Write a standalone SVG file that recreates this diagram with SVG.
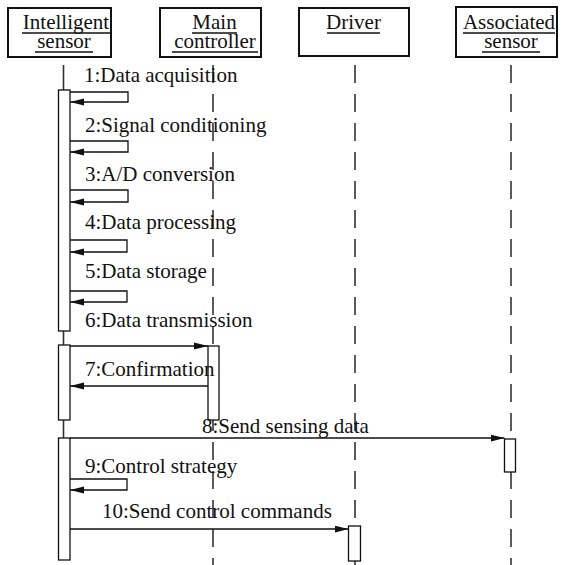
<svg xmlns="http://www.w3.org/2000/svg" width="563" height="565" viewBox="0 0 563 565">
<style>
text{font-family:"Liberation Serif","Times New Roman",serif;font-size:21px;fill:#111}
.hd{text-anchor:middle}
.box{fill:#fff;stroke:#111;stroke-width:2}
.ul{stroke:#111;stroke-width:1.3}
.life{stroke:#333;stroke-width:1.6;fill:none}
.dash{stroke-dasharray:18 11}
.act{fill:#fff;stroke:#111;stroke-width:1.3}
.msg{stroke:#111;stroke-width:1.3;fill:none;marker-end:url(#ah)}
</style>
<defs>
<marker id="ah" markerUnits="userSpaceOnUse" markerWidth="15" markerHeight="8" refX="14" refY="4" orient="auto">
<path d="M0,0.5 L14,4 L0,7.5 Z" fill="#111"/>
</marker>
</defs>
<g id="lifelines">
<line class="life" x1="63.5" y1="65" x2="63.5" y2="560"/>
<line class="life dash" x1="213" y1="65" x2="213" y2="565"/>
<line class="life dash" x1="355" y1="65" x2="355" y2="565"/>
<line class="life dash" x1="511" y1="65" x2="511" y2="565"/>
</g>
<g id="intelligent-sensor">
<rect class="box" x="8" y="8" width="103" height="49"/>
<text class="hd" x="66" y="29">Intelligent</text>
<line class="ul" x1="22" y1="33" x2="110" y2="33"/>
<text class="hd" x="64" y="48">sensor</text>
<line class="ul" x1="35" y1="52" x2="93" y2="52"/>
<rect class="act" x="58.5" y="90" width="11.5" height="241"/>
<rect class="act" x="58.5" y="345" width="11.5" height="75"/>
<rect class="act" x="58.5" y="438" width="11.5" height="122"/>
</g>
<g id="main-controller">
<rect class="box" x="160" y="8" width="101" height="49"/>
<text class="hd" x="214.5" y="29">Main</text>
<line class="ul" x1="192" y1="33" x2="237" y2="33"/>
<text class="hd" x="215" y="48">controller</text>
<line class="ul" x1="172" y1="52" x2="258" y2="52"/>
<rect class="act" x="208" y="346" width="11" height="74"/>
</g>
<g id="driver">
<rect class="box" x="299" y="8" width="110" height="48"/>
<text class="hd" x="353.5" y="29">Driver</text>
<line class="ul" x1="327" y1="33" x2="380" y2="33"/>
<rect class="act" x="348.5" y="526" width="12" height="35"/>
</g>
<g id="associated-sensor">
<rect class="box" x="456" y="7" width="101" height="50"/>
<text class="hd" x="509" y="29">Associated</text>
<line class="ul" x1="463" y1="33" x2="555" y2="33"/>
<text class="hd" x="511" y="48">sensor</text>
<line class="ul" x1="482" y1="52" x2="540" y2="52"/>
<rect class="act" x="504.5" y="439" width="11" height="33"/>
</g>
<g id="connectors">
<polyline class="msg" points="70,92 128,92 128,102 70,102"/>
<polyline class="msg" points="70,141 128,141 128,152 70,152"/>
<polyline class="msg" points="70,190 128,190 128,202 70,202"/>
<polyline class="msg" points="70,240 127,240 127,252 70,252"/>
<polyline class="msg" points="70,291 127,291 127,302 70,302"/>
<line class="msg" x1="70" y1="346" x2="208" y2="346"/>
<line class="msg" x1="208" y1="386" x2="70" y2="386"/>
<line class="msg" x1="70" y1="438" x2="504.5" y2="438"/>
<polyline class="msg" points="70,479 127,479 127,490 70,490"/>
<line class="msg" x1="70" y1="529" x2="348.5" y2="529"/>
</g>
<g id="labels">
<text x="84" y="82">1:Data acquisition</text>
<text x="85" y="132">2:Signal conditioning</text>
<text x="85" y="181">3:A/D conversion</text>
<text x="85" y="229">4:Data processing</text>
<text x="85" y="278">5:Data storage</text>
<text x="85" y="327">6:Data transmission</text>
<text x="85" y="376">7:Confirmation</text>
<text x="202" y="433">8:Send sensing data</text>
<text x="85" y="473">9:Control strategy</text>
<text x="102" y="518">10:Send control commands</text>
</g>
</svg>
